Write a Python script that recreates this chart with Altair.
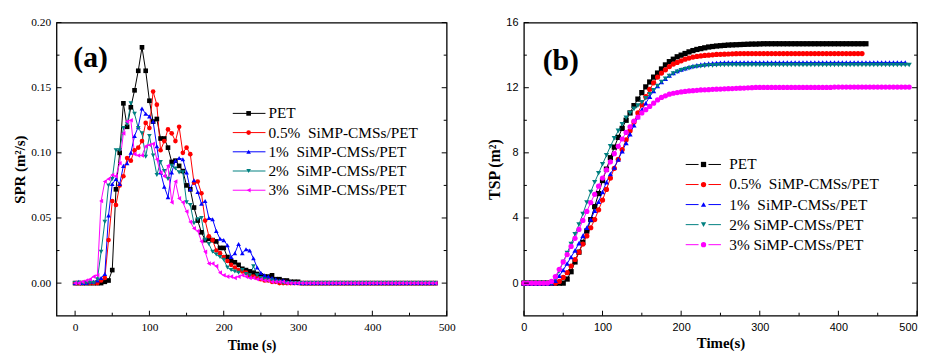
import altair as alt
import pandas as pd

# ---------------- data ----------------
series = ["PET", "0.5% SiMP-CMSs/PET", "1% SiMP-CMSs/PET", "2% SiMP-CMSs/PET", "3% SiMP-CMSs/PET"]
legend_a = ["PET", "0.5%\u00a0\u00a0SiMP-CMSs/PET", "1%\u00a0\u00a0SiMP-CMSs/PET",
            "2%\u00a0\u00a0SiMP-CMSs/PET", "3%\u00a0\u00a0SiMP-CMSs/PET"]
legend_b = ["PET", "0.5%\u00a0\u00a0SiMP-CMSs/PET", "1%\u00a0\u00a0SiMP-CMSs/PET",
            "2% SiMP-CMSs/PET", "3% SiMP-CMSs/PET"]
colors = ["#000000", "#ff0000", "#0000ff", "#008080", "#ff00ff"]
shapes_a = ["square", "circle", "triangle-up", "triangle-down", "triangle-left"]
shapes_b = ["square", "circle", "triangle-up", "triangle-down", "circle"]

# SPR (m2/s), sampled every 5 s from 0 to 485 s
spr_pet = [0, 0, 0, 0, 0, 0, 0, 0,
           0.001, 0.002, 0.010, 0.072, 0.100, 0.138, 0.120, 0.135, 0.148, 0.163, 0.181, 0.163,
           0.140, 0.124, 0.126, 0.111, 0.111, 0.104, 0.093, 0.094, 0.090, 0.086,
           0.075, 0.072, 0.058, 0.048, 0.039, 0.033, 0.034, 0.033, 0.032, 0.027,
           0.027, 0.020, 0.017, 0.016, 0.014, 0.011, 0.010, 0.009, 0.008, 0.007,
           0.006, 0.005, 0.005, 0.006, 0.003, 0.003, 0.002, 0.002, 0.001, 0.001, 0.001] + [0] * 37
spr_05 = [0, 0, 0, 0, 0, 0, 0,
          0.002, 0.004, 0.033, 0.063, 0.060, 0.075, 0.082, 0.096, 0.094, 0.102, 0.104, 0.109, 0.123,
          0.119, 0.147, 0.137, 0.102, 0.109, 0.118, 0.115, 0.109, 0.120, 0.100,
          0.104, 0.099, 0.077, 0.078, 0.069, 0.048, 0.036, 0.033, 0.025, 0.023,
          0.020, 0.017, 0.014, 0.012, 0.010, 0.009, 0.008, 0.006, 0.005, 0.004,
          0.003, 0.002, 0.002, 0.001, 0.001] + [0] * 43
spr_1 = [0, 0.001, 0, 0, 0.001, 0.001, 0.002, 0.004,
         0.007, 0.052, 0.076, 0.080, 0.076, 0.090, 0.092, 0.100, 0.113, 0.120, 0.134, 0.130,
         0.128, 0.124, 0.105, 0.085, 0.074, 0.066, 0.085, 0.094, 0.096, 0.095,
         0.085, 0.072, 0.079, 0.070, 0.061, 0.063, 0.050, 0.049, 0.040, 0.034,
         0.033, 0.029, 0.020, 0.023, 0.030, 0.023, 0.026, 0.025, 0.019, 0.012,
         0.008, 0.006, 0.005, 0.004, 0.003, 0.002, 0.002, 0.001, 0.001] + [0] * 39
spr_2 = [0, 0, 0, 0, 0, 0, 0.003,
         0.024, 0.047, 0.075, 0.080, 0.102, 0.102, 0.119, 0.122, 0.138, 0.130, 0.119, 0.115, 0.097,
         0.113, 0.098, 0.083, 0.093, 0.086, 0.080, 0.090, 0.088, 0.085, 0.085,
         0.062, 0.060, 0.046, 0.049, 0.050, 0.033, 0.030, 0.024, 0.022, 0.020,
         0.018, 0.012, 0.010, 0.009, 0.008, 0.010, 0.007, 0.006, 0.013, 0.006,
         0.004, 0.003, 0.002, 0.002, 0.001, 0.001] + [0] * 42
spr_3 = [0, 0, 0.001, 0.002, 0.003, 0.005, 0.006,
         0.063, 0.078, 0.080, 0.083, 0.082, 0.092, 0.115, 0.124, 0.125, 0.099, 0.098, 0.098, 0.105,
         0.106, 0.107, 0.095, 0.085, 0.082, 0.090, 0.062, 0.078, 0.065, 0.062,
         0.055, 0.047, 0.042, 0.040, 0.032, 0.024, 0.015, 0.015, 0.013, 0.008,
         0.006, 0.005, 0.005, 0.004, 0.005, 0.006, 0.005, 0.004, 0.004, 0.003,
         0.003, 0.002, 0.002, 0.001, 0.001, 0.001, 0.001] + [0] * 41

# TSP (m2), sampled every 5 s
tsp_pet = [0] * 11 + [
    0.25, 0.7, 1.3, 1.9, 2.5, 3.2, 3.9, 4.7, 5.5, 6.3,
    7.0, 7.7, 8.35, 8.95, 9.5, 10.0, 10.45, 10.9, 11.3, 11.7,
    12.05, 12.35, 12.65, 12.9, 13.15, 13.4, 13.6, 13.75, 13.9, 14.0,
    14.1, 14.2, 14.28, 14.35, 14.4, 14.45, 14.5, 14.53, 14.56, 14.58,
    14.6, 14.62, 14.63, 14.64, 14.65, 14.66, 14.67, 14.68, 14.68, 14.69] + [14.7] * 27
tsp_05 = [0] * 9 + [
    0.1, 0.35, 0.65, 1.05, 1.45, 1.9, 2.4, 2.9, 3.4, 3.9,
    4.5, 5.1, 5.75, 6.45, 7.05, 7.6, 8.2, 8.8, 9.35, 9.9,
    10.45, 10.95, 11.45, 11.9, 12.3, 12.65, 12.9, 13.1, 13.3, 13.45,
    13.55, 13.65, 13.75, 13.82, 13.88, 13.92, 13.95, 13.98, 14.0, 14.02,
    14.04, 14.05, 14.06, 14.07, 14.08, 14.09] + [14.1] * 32
tsp_1 = [0] * 8 + [
    0.15, 0.45, 0.8, 1.2, 1.6, 2.0, 2.45, 2.9, 3.4, 3.9,
    4.45, 5.0, 5.6, 6.2, 6.7, 7.1, 7.6, 8.1, 8.6, 9.15,
    9.7, 10.2, 10.65, 11.05, 11.45, 11.8, 12.1, 12.35, 12.55, 12.75,
    12.9, 13.02, 13.12, 13.2, 13.27, 13.33, 13.38, 13.42, 13.45, 13.48,
    13.5, 13.52, 13.53] + [13.55] * 47
tsp_2 = [0] * 8 + [
    0.3, 0.75, 1.3, 1.85, 2.4, 3.0, 3.6, 4.25, 4.95, 5.6, 6.2, 6.75,
    7.3, 7.85, 8.4, 8.9, 9.35, 9.75, 10.15, 10.45, 10.7, 10.9,
    11.1, 11.35, 11.6, 11.85, 12.1, 12.35, 12.55, 12.72, 12.87, 12.98,
    13.07, 13.14, 13.2, 13.25, 13.29, 13.32, 13.34, 13.36, 13.37, 13.38,
    13.39] + [13.4] * 48
tsp_3 = [0] * 7 + [
    0.1, 0.4, 0.85, 1.3, 1.75, 2.25, 2.75, 3.3, 3.85, 4.4,
    4.95, 5.45, 5.95, 6.45, 6.95, 7.45, 7.95, 8.4, 8.85, 9.25,
    9.6, 9.95, 10.2, 10.45, 10.65, 10.85, 11.05, 11.25, 11.4, 11.5,
    11.6, 11.66, 11.7, 11.74, 11.77, 11.8, 11.82, 11.84, 11.86, 11.87,
    11.88, 11.9, 11.91, 11.92, 11.93, 11.94, 11.95, 11.96, 11.97, 11.98,
    11.99, 12.0] + [12.02] * 20 + [12.04] * 20

# axis ticks
a_x_major = [0, 100, 200, 300, 400, 500]
a_x_minor = [50, 150, 250, 350, 450]
a_y_major = [0.0, 0.05, 0.10, 0.15, 0.20]
a_y_minor = [0.025, 0.075, 0.125, 0.175]
b_x_major = [0, 100, 200, 300, 400, 500]
b_x_minor = [50, 150, 250, 350, 450]
b_y_major = [0, 4, 8, 12, 16]
b_y_minor = [2, 6, 10, 14]

# ---------------- tables ----------------
def long_table(vals_list, step=5):
    rows = []
    for k, (name, vals) in enumerate(zip(series, vals_list)):
        for i, v in enumerate(vals):
            rows.append({"t": i * step, "v": v, "series": name, "k": k})
    return pd.DataFrame(rows)

spr_df = long_table([spr_pet, spr_05, spr_1, spr_2, spr_3])
tsp_df = long_table([tsp_pet, tsp_05, tsp_1, tsp_2, tsp_3])

SERIF = "Liberation Serif, Times New Roman, serif"
SANS = "Liberation Sans, Arial, sans-serif"


def panel(df, W, H, xdom, ydom, xmaj, xmin, ymaj, ymin, yfmt, shapes, labels, ytitle, xtitle,
          tickfont, tickfs, titlefs, ytitlefs, leg, tag, tagpos, msize, xtitlepad, xlabel_align=None):
    cscale = alt.Scale(domain=series, range=colors)
    sscale = alt.Scale(domain=series, range=shapes)
    xaxis_kw = dict(values=xmaj, ticks=False, tickSize=0, domain=False, grid=False,
                    labelFont=tickfont, labelFontSize=tickfs, labelColor="black", labelPadding=6,
                    labelFlush=False,
                    title=xtitle, titleFont=SERIF, titleFontSize=titlefs, titleFontWeight="bold",
                    titleColor="black", titlePadding=xtitlepad, labelOverlap=False)
    if xlabel_align is not None:
        xaxis_kw["labelAlign"] = xlabel_align
    x = alt.X("t:Q", scale=alt.Scale(domain=xdom, nice=False, zero=False), axis=alt.Axis(**xaxis_kw))
    y = alt.Y("v:Q", scale=alt.Scale(domain=ydom, nice=False, zero=False),
              axis=alt.Axis(values=ymaj, format=yfmt, ticks=False, tickSize=0, domain=False, grid=False,
                            labelFont=tickfont, labelFontSize=tickfs, labelColor="black", labelPadding=6,
                            labelFlush=False,
                            title=ytitle, titleFont=SERIF, titleFontSize=ytitlefs, titleFontWeight="bold",
                            titleColor="black", titlePadding=3))
    base = alt.Chart(df)
    lines = base.mark_line(strokeWidth=1).encode(
        x=x, y=y, color=alt.Color("series:N", scale=cscale, legend=None), detail="series:N")
    points = base.mark_point(filled=True, size=msize, opacity=1).encode(
        x="t:Q", y="v:Q",
        color=alt.Color("series:N", scale=cscale, legend=None),
        shape=alt.Shape("series:N", scale=sscale, legend=None),
        order="k:Q")

    def xt(vals, L):
        return alt.Chart(pd.DataFrame({"p": vals})).mark_rule(color="black", strokeWidth=1).encode(
            x="p:Q", y=alt.value(H), y2=alt.value(H - L))

    def yt_left(vals, L):
        return alt.Chart(pd.DataFrame({"p": vals})).mark_rule(color="black", strokeWidth=1).encode(
            y="p:Q", x=alt.value(0), x2=alt.value(L))

    def yt_right(vals, L):
        return alt.Chart(pd.DataFrame({"p": vals})).mark_rule(color="black", strokeWidth=1).encode(
            y="p:Q", x=alt.value(W), x2=alt.value(W - L))

    ticks = [xt(xmaj, 5), xt(xmin, 3), yt_left(ymaj, 5), yt_left(ymin, 3),
             yt_right(ymaj, 5), yt_right(ymin, 3)]

    # legend (drawn inside the plot)
    lx0, lx1, lgap, mx, tx, ly0, ldy, lfs = leg
    ldf = pd.DataFrame({"series": series, "label": labels, "i": list(range(5))})
    lbase = alt.Chart(ldf).transform_calculate(ly=f"{ly0} + datum.i * {ldy}")
    ly = alt.Y("ly:Q", scale=None, axis=None)
    if lgap:
        leg_lines = [
            lbase.mark_rule(strokeWidth=1).encode(
                x=alt.value(lx0), x2=alt.value(mx - lgap), y=ly,
                color=alt.Color("series:N", scale=cscale, legend=None)),
            lbase.mark_rule(strokeWidth=1).encode(
                x=alt.value(mx + lgap), x2=alt.value(lx1), y=ly,
                color=alt.Color("series:N", scale=cscale, legend=None)),
        ]
    else:
        leg_lines = [lbase.mark_rule(strokeWidth=1).encode(
            x=alt.value(lx0), x2=alt.value(lx1), y=ly,
            color=alt.Color("series:N", scale=cscale, legend=None))]
    leg_pts = lbase.mark_point(filled=True, size=msize, opacity=1).encode(
        x=alt.value(mx), y=ly,
        color=alt.Color("series:N", scale=cscale, legend=None),
        shape=alt.Shape("series:N", scale=sscale, legend=None))
    leg_txt = lbase.mark_text(align="left", baseline="middle", font=SERIF, fontSize=lfs,
                              color="black").encode(x=alt.value(tx), y=ly, text="label:N")

    tag_txt = alt.Chart(pd.DataFrame({"s": [tag]})).mark_text(
        align="left", baseline="alphabetic", font=SERIF, fontSize=30, fontWeight="bold",
        color="black").encode(x=alt.value(tagpos[0]), y=alt.value(tagpos[1]), text="s:N")

    return alt.layer(lines, points, *ticks, *leg_lines, leg_pts, leg_txt, tag_txt).properties(
        width=W, height=H)


pa = panel(spr_df, 394, 296, [-25, 500], [-0.025, 0.2], a_x_major, a_x_minor, a_y_major, a_y_minor,
           ".2f", shapes_a, legend_a, "SPR (m²/s)", "Time (s)", SERIF, 11.5, 14, 15,
           (178, 211, 0, 194, 214, 91.7, 19.4, 15.5), "(a)", (17, 45), 22, 6)
pb = panel(tsp_df, 397, 296, [0, 500], [-2, 16], b_x_major, b_x_minor, b_y_major, b_y_minor,
           "d", shapes_b, legend_b, "TSP (m²)", "Time(s)", SANS, 11, 15, 16,
           (163.4, 199, 5, 181.4, 207.4, 143.3, 20.25, 15.5), "(b)", (19, 48), 28, 3,
           xlabel_align={"condition": {"test": "datum.value === 500", "value": "right"}, "value": "center"})

chart = alt.hconcat(pa, pb, spacing=30).resolve_scale(
    color="independent", shape="independent"
).configure_view(stroke="black", strokeWidth=1.3).properties(
    padding={"left": 4, "top": 6, "right": 0, "bottom": 0}, background="white")

chart.save("out.html", embed_options={"renderer": "svg", "actions": False})
